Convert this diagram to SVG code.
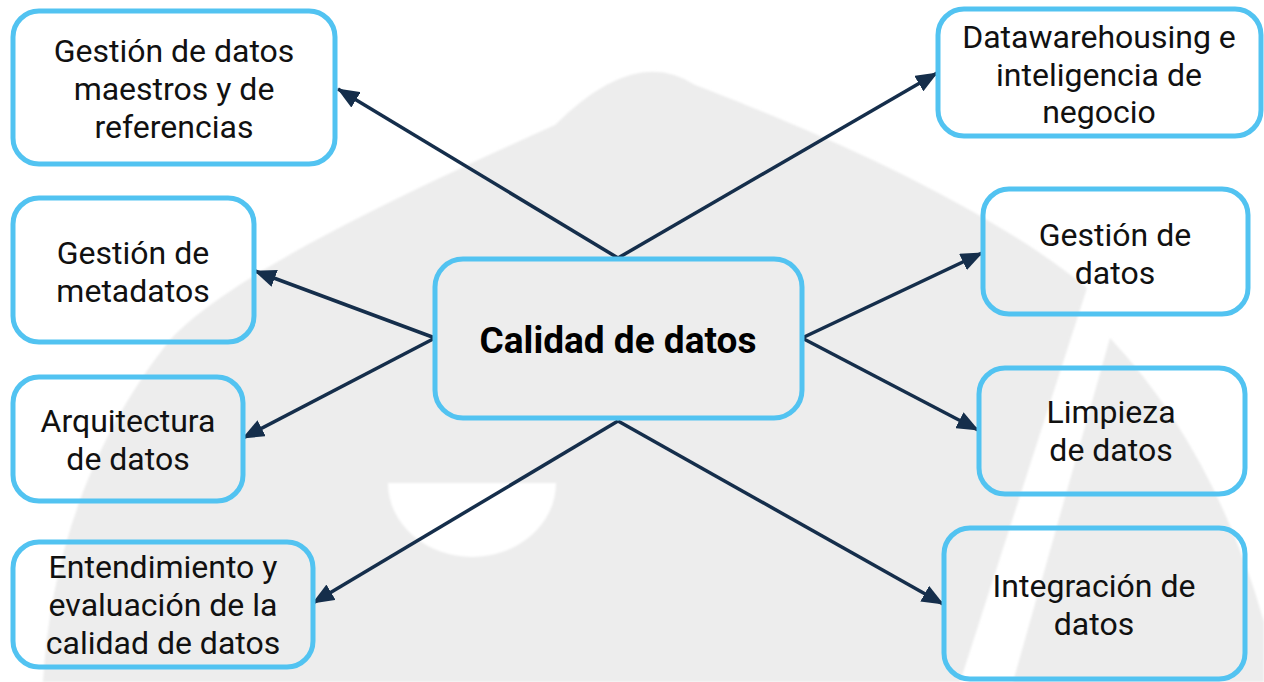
<svg xmlns="http://www.w3.org/2000/svg" width="1264" height="682" viewBox="0 0 1264 682">
  <style>
    .box { fill: none; stroke: #52c3f1; stroke-width: 5; }
    .lbl { font-family: Roboto, "Liberation Sans", sans-serif; font-size: 32px; fill: #111; text-anchor: middle; }
    .main { font-family: Roboto, "Liberation Sans", sans-serif; font-size: 37px; font-weight: bold; fill: #000; text-anchor: middle; }
    .conn { stroke: #152e4b; stroke-width: 3.5; fill: none; marker-end: url(#ah); }
    .wm { fill: #ededed; }
  </style>
  <defs>
    <marker id="ah" viewBox="0 0 22 18" refX="21" refY="9" markerWidth="22" markerHeight="18" markerUnits="userSpaceOnUse" orient="auto">
      <path d="M0,0 L22,9 L0,18 z" fill="#152e4b"/>
    </marker>
    <filter id="soft" x="-5%" y="-5%" width="110%" height="110%">
      <feGaussianBlur stdDeviation="1"/>
    </filter>
  </defs>
  <rect width="1264" height="682" fill="#ffffff"/>
  <g id="watermark" filter="url(#soft)">
    <path class="wm" d="M43,682 C50,560 90,440 170,340 C230,275 400,195 555,125 Q635,45 695,85 C800,125 980,200 1087,288 L960,682 Z"/>
    <path class="wm" d="M1110,338 Q1215,450 1264,622 L1264,682 L1013,682 Z"/>
    <path d="M388,483 A84,74 0 0 0 556,483 Z" fill="#ffffff"/>
  </g>
  <g id="connectors">
    <line class="conn" x1="618" y1="258" x2="338" y2="89"/>
    <line class="conn" x1="618" y1="258" x2="937" y2="73"/>
    <line class="conn" x1="435" y1="338" x2="255" y2="271"/>
    <line class="conn" x1="435" y1="338" x2="243" y2="438"/>
    <line class="conn" x1="618" y1="421" x2="313" y2="603"/>
    <line class="conn" x1="618" y1="421" x2="943" y2="604"/>
    <line class="conn" x1="802" y1="338" x2="982" y2="253"/>
    <line class="conn" x1="802" y1="338" x2="978" y2="430"/>
  </g>
  <g id="node-center">
    <rect class="box" x="435" y="259" width="367" height="159" rx="28"/>
    <text class="main" x="618" y="353">Calidad de datos</text>
  </g>
  <g id="node-maestros">
    <rect class="box" x="13" y="11" width="322" height="153" rx="26"/>
    <text class="lbl" x="174" y="62">Gestión de datos</text>
    <text class="lbl" x="174" y="100">maestros y de</text>
    <text class="lbl" x="174" y="138">referencias</text>
  </g>
  <g id="node-metadatos">
    <rect class="box" x="13" y="198" width="241" height="144" rx="26"/>
    <text class="lbl" x="133" y="264">Gestión de</text>
    <text class="lbl" x="133" y="302">metadatos</text>
  </g>
  <g id="node-arquitectura">
    <rect class="box" x="13" y="377" width="230" height="124" rx="26"/>
    <text class="lbl" x="128" y="432">Arquitectura</text>
    <text class="lbl" x="128" y="470">de datos</text>
  </g>
  <g id="node-entendimiento">
    <rect class="box" x="13" y="542" width="300" height="125" rx="26"/>
    <text class="lbl" x="163" y="578">Entendimiento y</text>
    <text class="lbl" x="163" y="616">evaluación de la</text>
    <text class="lbl" x="163" y="654">calidad de datos</text>
  </g>
  <g id="node-datawarehousing">
    <rect class="box" x="938" y="9" width="323" height="127" rx="26"/>
    <text class="lbl" x="1099" y="48">Datawarehousing e</text>
    <text class="lbl" x="1099" y="86">inteligencia de</text>
    <text class="lbl" x="1099" y="123">negocio</text>
  </g>
  <g id="node-gestion-datos">
    <rect class="box" x="983" y="189" width="265" height="125" rx="26"/>
    <text class="lbl" x="1115" y="246">Gestión de</text>
    <text class="lbl" x="1115" y="284">datos</text>
  </g>
  <g id="node-limpieza">
    <rect class="box" x="979" y="368" width="266" height="126" rx="26"/>
    <text class="lbl" x="1111" y="423">Limpieza</text>
    <text class="lbl" x="1111" y="461">de datos</text>
  </g>
  <g id="node-integracion">
    <rect class="box" x="944" y="528" width="301" height="151" rx="26"/>
    <text class="lbl" x="1094" y="597">Integración de</text>
    <text class="lbl" x="1094" y="635">datos</text>
  </g>
</svg>
